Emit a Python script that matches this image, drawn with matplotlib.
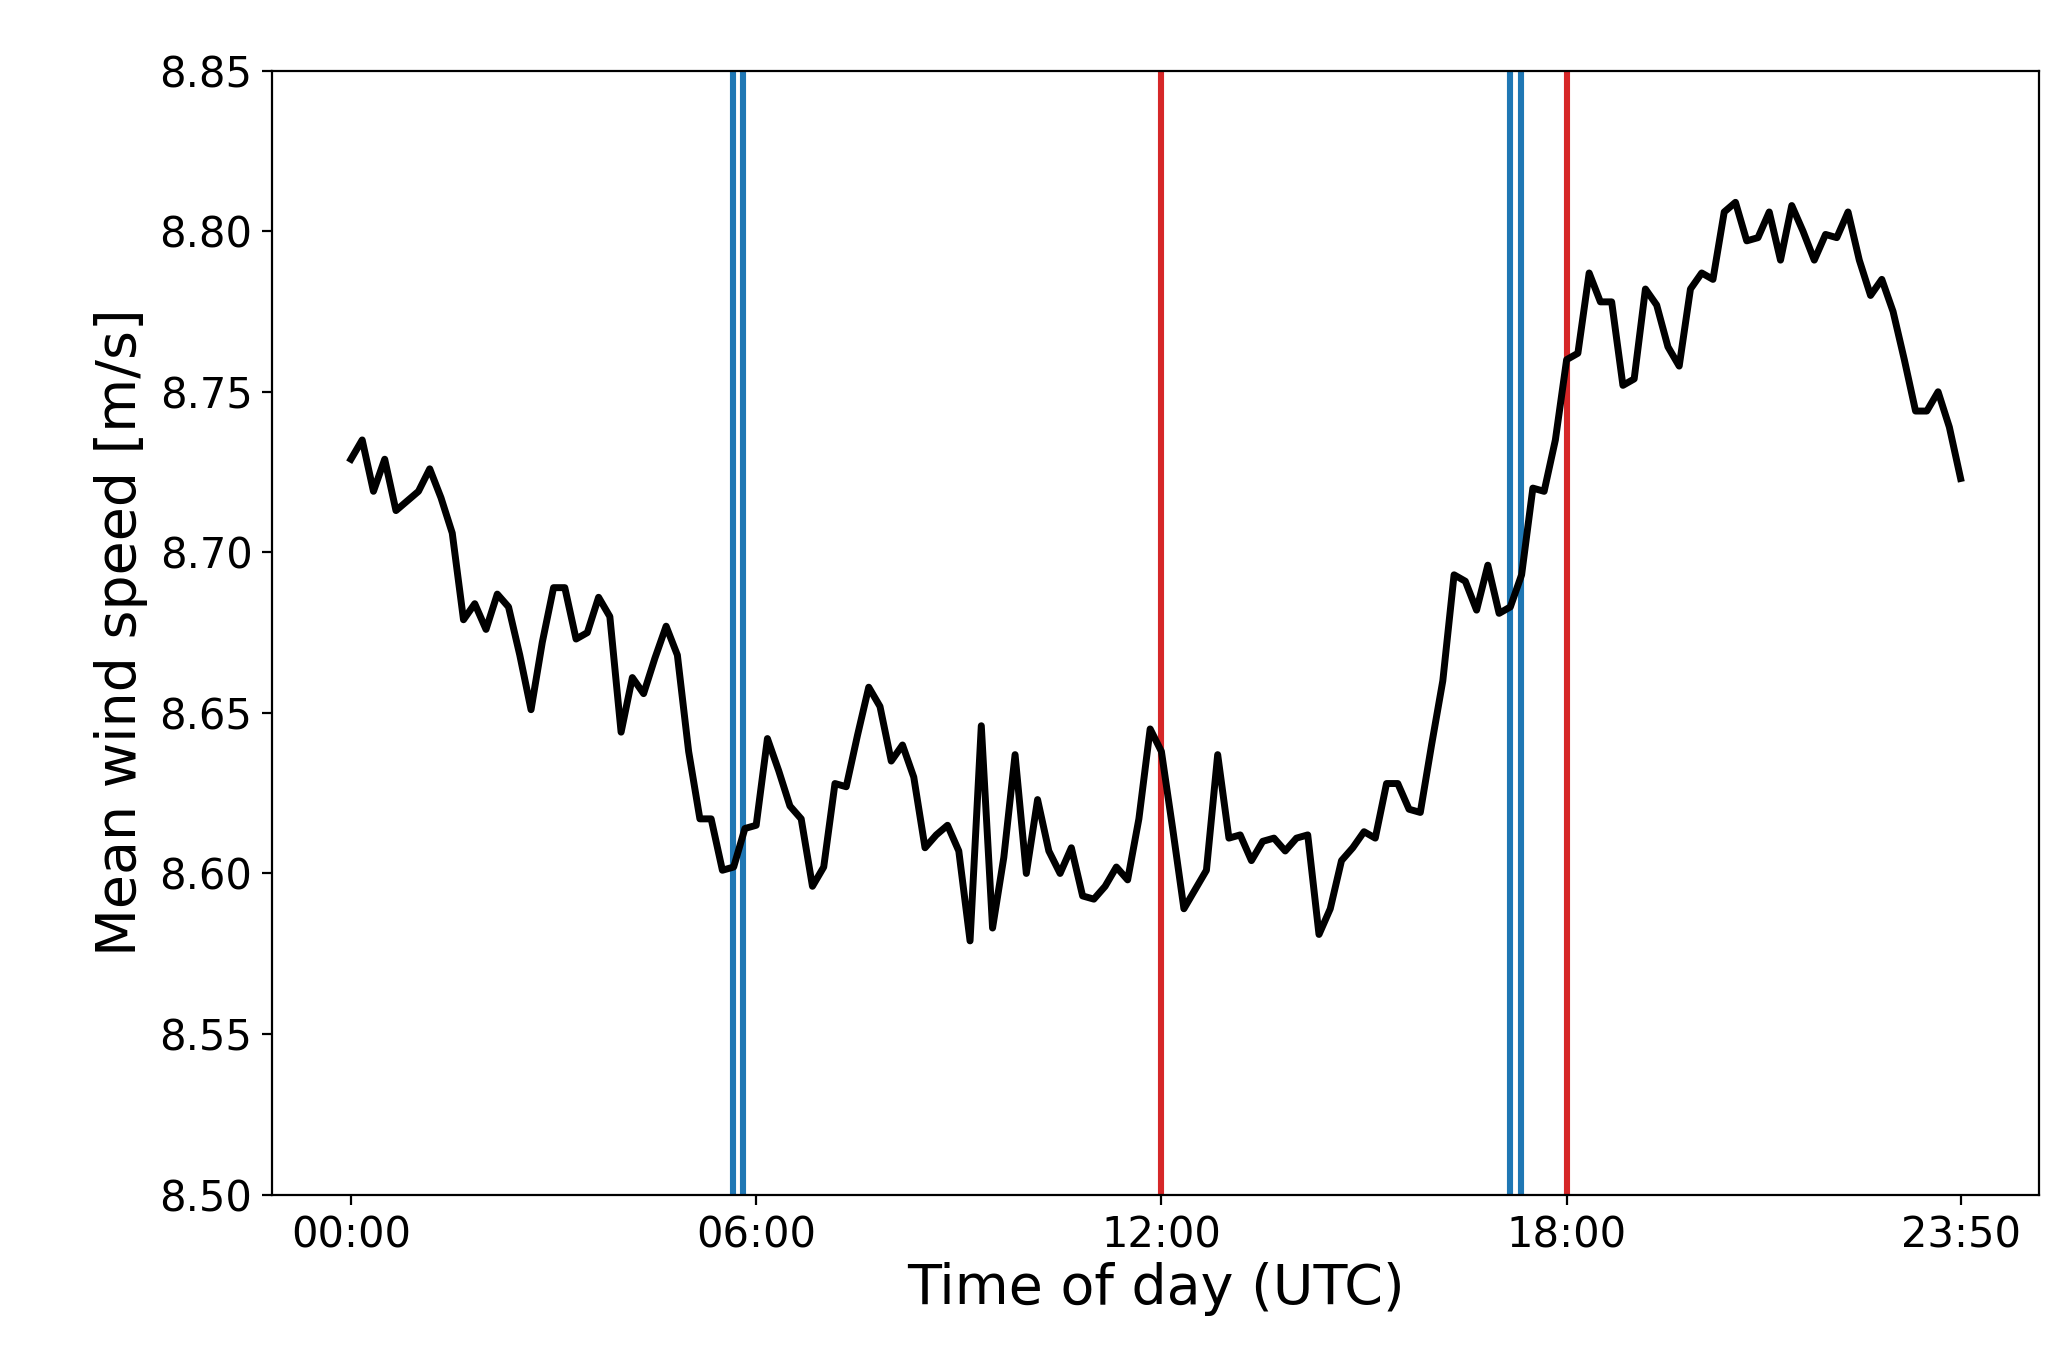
import numpy as np
import matplotlib
matplotlib.use('Agg')
import matplotlib.pyplot as plt

# Mean wind speed every 10 minutes, 00:00 .. 23:50
wind_speed = [
    8.729, 8.735, 8.719, 8.729, 8.713, 8.716, 8.719, 8.726, 8.717, 8.706,
    8.679, 8.684, 8.676, 8.687, 8.683, 8.668, 8.651, 8.672, 8.689, 8.689,
    8.673, 8.675, 8.686, 8.680, 8.644, 8.661, 8.656, 8.667, 8.677, 8.668,
    8.638, 8.617, 8.617, 8.601, 8.602, 8.614, 8.615, 8.642, 8.632, 8.621,
    8.617, 8.596, 8.602, 8.628, 8.627, 8.643, 8.658, 8.652, 8.635, 8.640,
    8.630, 8.608, 8.612, 8.615, 8.607, 8.579, 8.646, 8.583, 8.605, 8.637,
    8.600, 8.623, 8.607, 8.600, 8.608, 8.593, 8.592, 8.596, 8.602, 8.598,
    8.617, 8.645, 8.638, 8.614, 8.589, 8.595, 8.601, 8.637, 8.611, 8.612,
    8.604, 8.610, 8.611, 8.607, 8.611, 8.612, 8.581, 8.589, 8.604, 8.608,
    8.613, 8.611, 8.628, 8.628, 8.620, 8.619, 8.640, 8.660, 8.693, 8.691,
    8.682, 8.696, 8.681, 8.683, 8.693, 8.720, 8.719, 8.735, 8.760, 8.762,
    8.787, 8.778, 8.778, 8.752, 8.754, 8.782, 8.777, 8.764, 8.758, 8.782,
    8.787, 8.785, 8.806, 8.809, 8.797, 8.798, 8.806, 8.791, 8.808, 8.800,
    8.791, 8.799, 8.798, 8.806, 8.791, 8.780, 8.785, 8.775, 8.760, 8.744,
    8.744, 8.750, 8.739, 8.723,
]
hours = np.arange(len(wind_speed)) / 6.0

blue_lines = [5.66, 5.81, 17.16, 17.32]   # hours
red_lines = [12.0, 18.0]

tick_pos = [0, 6, 12, 18, 23 + 50 / 60]
tick_labels = ['00:00', '06:00', '12:00', '18:00', '23:50']

fig = plt.figure(figsize=(10.3, 6.795), dpi=200)
ax = fig.add_axes([0.132, 0.121, 0.858, 0.827])

for h in blue_lines:
    ax.axvline(h, color='tab:blue', lw=2.2)
for h in red_lines:
    ax.axvline(h, color='tab:red', lw=2.2)
ax.plot(hours, wind_speed, color='black', lw=2.5)

ax.set_ylim(8.50, 8.85)
ax.set_yticks(np.arange(8.50, 8.851, 0.05))
ax.set_xlim(-1.17, 25.0)
ax.set_xticks(tick_pos)
ax.set_xticklabels(tick_labels)
ax.tick_params(labelsize=15)
ax.set_xlabel('Time of day (UTC)', fontsize=20, labelpad=2)
ax.set_ylabel('Mean wind speed [m/s]', fontsize=20)

fig.savefig('out.png', dpi=200)
